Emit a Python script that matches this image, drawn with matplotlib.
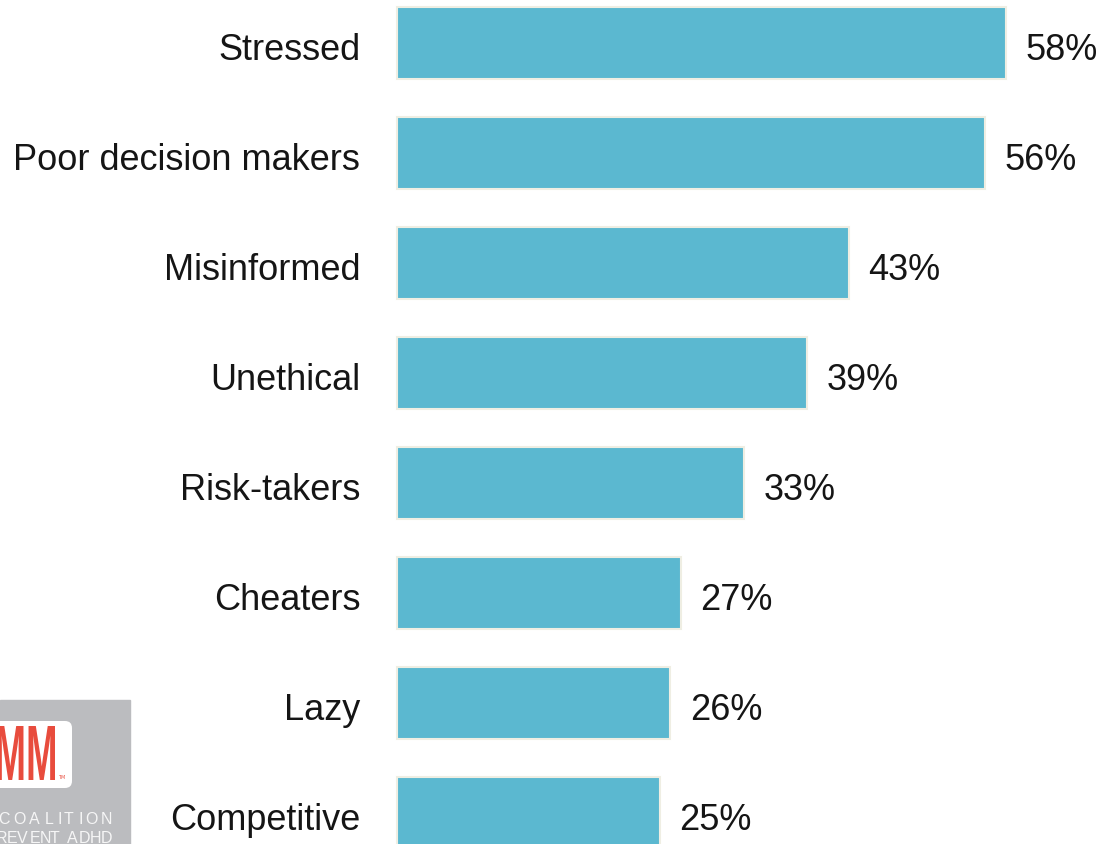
import matplotlib.pyplot as plt
from matplotlib.patches import Rectangle, FancyBboxPatch, PathPatch
from matplotlib.textpath import TextPath
from matplotlib.font_manager import FontProperties
from matplotlib.transforms import Affine2D

categories = ["Stressed", "Poor decision makers", "Misinformed", "Unethical",
              "Risk-takers", "Cheaters", "Lazy", "Competitive"]
values = [58, 56, 43, 39, 33, 27, 26, 25]
value_labels = ["58%", "56%", "43%", "39%", "33%", "27%", "26%", "25%"]

bar_color = "#5BB8D0"
edge_color = "#EFEEE3"
text_color = "#151515"

W, H = 1101, 845
fig = plt.figure(figsize=(W / 100, H / 100), dpi=100)
fig.patch.set_facecolor("white")

# bars start at x=397px, ~10.5 px per percent, rows 110 px apart
x0 = 397
px_per_pct = 10.5
ax = fig.add_axes([x0 / W, 0, 1 - x0 / W, 1])
ax.set_xlim(0, (W - x0) / px_per_pct)
ax.set_ylim((H - 44) / 110, -44 / 110)
ax.axis("off")

ys = list(range(len(categories)))
ax.barh(ys, values, height=0.66, color=bar_color, edgecolor=edge_color,
        linewidth=1.5, clip_on=False)

font = "Liberation Sans"
base = 0.145  # baseline sits a little below the bar centre
for y, v, lab, cat in zip(ys, values, value_labels, categories):
    ax.text(v + 1.9, y + base, lab, va="baseline", ha="left", fontsize=26,
            family=font, color=text_color)
    ax.text(-3.5, y + base, cat, va="baseline", ha="right", fontsize=26,
            family=font, color=text_color, clip_on=False)

# ---- logo block in the lower-left corner (pixel coords, origin top-left) ----
px = Affine2D().scale(1 / W, 1 / H) + fig.transFigure


def top(y):
    return H - y


fig.patches.append(Rectangle((0, top(845)), 130, 144, transform=px,
                             color="#BBBCBF", zorder=0))
fig.patches.append(FancyBboxPatch((-20, top(789)), 92, 67,
                                  boxstyle="round,pad=0,rounding_size=7",
                                  transform=px, facecolor="white",
                                  edgecolor="none", zorder=1))

# condensed bold "MM": squeeze a bold glyph path into its box
mm = TextPath((0, 0), "MM", size=100,
              prop=FontProperties(family="Liberation Sans", weight="bold"))
ext = mm.get_extents()
bx0, bx1, by0, by1 = -3, 55, top(781), top(727)
sx = (bx1 - bx0) / ext.width
sy = (by1 - by0) / ext.height
mm_tr = Affine2D().translate(-ext.x0, -ext.y0).scale(sx, sy).translate(bx0, by0)
fig.patches.append(PathPatch(mm_tr.transform_path(mm), transform=px,
                             facecolor="#E84C3D", edgecolor="none", zorder=2))
fig.text(62 / W, top(778) / H, "TM", ha="center", va="center", fontsize=3.5,
         color="#E84C3D", zorder=2)


def tracked(s, x_right, y_base, size, tracking):
    # letter-spaced text, laid out right to left from x_right
    prop = FontProperties(family="Liberation Sans", size=size)
    x = x_right
    for ch in reversed(s):
        if ch == " ":
            x -= 0.28 * size * 100 / 72 + tracking
            continue
        w = TextPath((0, 0), ch, size=size,
                     prop=prop).get_extents().width * 100 / 72
        x -= w
        fig.text(x / W, top(y_base) / H, ch, ha="left", va="baseline",
                 fontproperties=prop, color="#F6F6F6", zorder=2)
        x -= tracking


tracked("COALITION", 110, 824, 11.5, 5.2)
tracked("TO PREVENT ADHD", 110, 843, 11.5, 1.6)

fig.savefig("out.png", dpi=100)
